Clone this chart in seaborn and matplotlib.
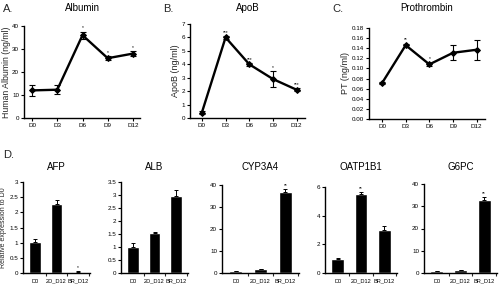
import numpy as np
import pandas as pd
import seaborn as sns
import matplotlib.pyplot as plt

sns.set_theme(style="ticks")
plt.rcParams['font.family'] = ['Liberation Sans', 'DejaVu Sans']

# ---- datos paneles A-C (series temporales) ----
dias = ["D0", "D3", "D6", "D9", "D12"]
albumina = [12.0, 12.3, 36.0, 26.0, 28.0]
albumina_err = [2.5, 2.0, 1.5, 0.8, 1.0]
albumina_sig = ["", "", "*", "*", "*"]
apob = [0.4, 6.0, 4.0, 2.9, 2.1]
apob_err = [0.1, 0.1, 0.1, 0.6, 0.1]
apob_sig = ["", "***", "***", "*", "***"]
pt = [0.071, 0.146, 0.108, 0.131, 0.137]
pt_err = [0.002, 0.003, 0.003, 0.015, 0.020]
pt_sig = ["", "**", "*", "", ""]

# ---- datos panel D (expresion relativa) ----
grupos = ["D0", "2D_D12", "BR_D12"]
afp = [1.02, 2.28, 0.03]
afp_err = [0.10, 0.12, 0.02]
afp_sig = ["", "", "*"]
alb = [1.0, 1.55, 2.95]
alb_err = [0.15, 0.03, 0.25]
alb_sig = ["", "", ""]
cyp3a4 = [1.0, 1.8, 37.0]
cyp3a4_err = [0.05, 0.1, 1.0]
cyp3a4_sig = ["", "", "**"]
oatp1b1 = [1.0, 5.5, 3.0]
oatp1b1_err = [0.03, 0.12, 0.3]
oatp1b1_sig = ["", "**", ""]
g6pc = [1.0, 1.4, 33.0]
g6pc_err = [0.05, 0.1, 1.0]
g6pc_sig = ["", "", "**"]

W, H = 500, 292
fig = plt.figure(figsize=(5.0, 2.92), dpi=100)


def caja(x0, x1, y_top, y_bot):
    # pixeles -> fracciones de figura
    return [x0 / W, 1 - y_bot / H, (x1 - x0) / W, (y_bot - y_top) / H]


def estilo_ejes(ax):
    for s in ["top", "right"]:
        ax.spines[s].set_visible(False)
    for s in ["left", "bottom"]:
        ax.spines[s].set_linewidth(1.0)
        ax.spines[s].set_color("black")
    ax.tick_params(axis="both", labelsize=4.5, length=2, width=0.8, pad=1.5, colors="black")


def titulo_px(ax, texto, rect, y_px):
    # titulo centrado sobre el eje, a una altura dada en pixeles
    x0, x1, y_top, y_bot = rect
    ax.text(0.5, 1 + (y_top - y_px) / (y_bot - y_top), texto, transform=ax.transAxes,
            ha="center", va="center", fontsize=7, color="black")


def grafico_linea(rect, valores, errores, sig, titulo, ylabel, ylim, yticks, yfmt, xlim, ylabel_size=6.5):
    ax = fig.add_axes(caja(*rect))
    df = pd.DataFrame({"dia": dias, "valor": valores})
    sns.lineplot(data=df, x="dia", y="valor", sort=False, ax=ax, color="black",
                 linewidth=1.7, marker="D", markersize=3, markeredgecolor="black")
    ax.errorbar(range(len(dias)), valores, yerr=errores, fmt="none", ecolor="black",
                elinewidth=0.8, capsize=2, capthick=0.8)
    rng = ylim[1] - ylim[0]
    for i, s in enumerate(sig):
        if s:
            ax.text(i, valores[i] + errores[i] + rng * 0.015, s, ha="center", va="bottom",
                    fontsize=3.5, color="black")
    ax.set_ylim(*ylim)
    ax.set_xlim(*xlim)
    ax.set_yticks(yticks)
    ax.set_yticklabels([yfmt.format(v) for v in yticks])
    ax.set_xlabel("")
    ax.set_ylabel(ylabel, fontsize=ylabel_size, labelpad=1)
    estilo_ejes(ax)
    titulo_px(ax, titulo, rect, 8)
    return ax


# A. Albumina
grafico_linea((24, 140, 26, 118), albumina, albumina_err, albumina_sig, "Albumin",
              "Human Albumin (ng/ml)", (0, 40), [0, 10, 20, 30, 40], "{:.0f}", (-0.32, 4.28),
              ylabel_size=6.3)
# B. ApoB
grafico_linea((190, 305, 24, 118), apob, apob_err, apob_sig, "ApoB",
              "ApoB (ng/ml)", (0, 7), list(range(8)), "{:.0f}", (-0.5, 4.35))
# C. Protrombina
grafico_linea((369, 485, 28, 119), pt, pt_err, pt_sig, "Prothrombin",
              "PT (ng/ml)", (0, 0.18), [i * 0.02 for i in range(10)], "{:.2f}", (-0.55, 4.35))


def grafico_barras(rect, valores, errores, sig, titulo, ylim, yticks, yfmt, ylabel=""):
    ax = fig.add_axes(caja(*rect))
    df = pd.DataFrame({"grupo": grupos, "valor": valores})
    sns.barplot(data=df, x="grupo", y="valor", ax=ax, color="black", width=0.55,
                errorbar=None, saturation=1)
    ax.errorbar(range(len(grupos)), valores, yerr=[[0] * len(errores), errores], fmt="none",
                ecolor="black", elinewidth=0.7, capsize=1.5, capthick=0.7)
    rng = ylim[1] - ylim[0]
    for i, s in enumerate(sig):
        if s:
            ax.text(i, valores[i] + errores[i] + rng * 0.02, s, ha="center", va="bottom",
                    fontsize=3.5, color="black")
    ax.set_ylim(*ylim)
    ax.set_xlim(-0.55, 2.55)
    ax.set_yticks(yticks)
    ax.set_yticklabels([yfmt.format(v) for v in yticks])
    ax.set_xticks([0.5, 1.5, 2.5], minor=True)
    ax.set_xlabel("")
    ax.set_ylabel(ylabel, fontsize=5, labelpad=2)
    estilo_ejes(ax)
    ax.tick_params(axis="x", which="major", length=0, pad=4, labelsize=4.1)
    ax.tick_params(axis="x", which="minor", length=2, width=0.8)
    titulo_px(ax, titulo, rect, 167)
    return ax


grafico_barras((23, 90, 182, 273), afp, afp_err, afp_sig, "AFP", (0, 3),
               [0, 0.5, 1, 1.5, 2, 2.5, 3], "{:g}", ylabel="Relative expression to D0")
grafico_barras((121, 188, 182, 273), alb, alb_err, alb_sig, "ALB", (0, 3.5),
               [0, 0.5, 1, 1.5, 2, 2.5, 3, 3.5], "{:g}")
grafico_barras((222, 299, 185, 273), cyp3a4, cyp3a4_err, cyp3a4_sig, "CYP3A4", (0, 40),
               [0, 10, 20, 30, 40], "{:g}")
grafico_barras((325, 397, 187, 273), oatp1b1, oatp1b1_err, oatp1b1_sig, "OATP1B1", (0, 6),
               [0, 2, 4, 6], "{:g}")
grafico_barras((424, 497, 184, 273), g6pc, g6pc_err, g6pc_sig, "G6PC", (0, 40),
               [0, 10, 20, 30, 40], "{:g}")

# letras de panel
for letra, x, y in [("A.", 3, 9), ("B.", 163, 9), ("C.", 332, 9), ("D.", 3, 155)]:
    fig.text(x / W, 1 - y / H, letra, fontsize=8, ha="left", va="center")

fig.savefig("out.png", dpi=100)
